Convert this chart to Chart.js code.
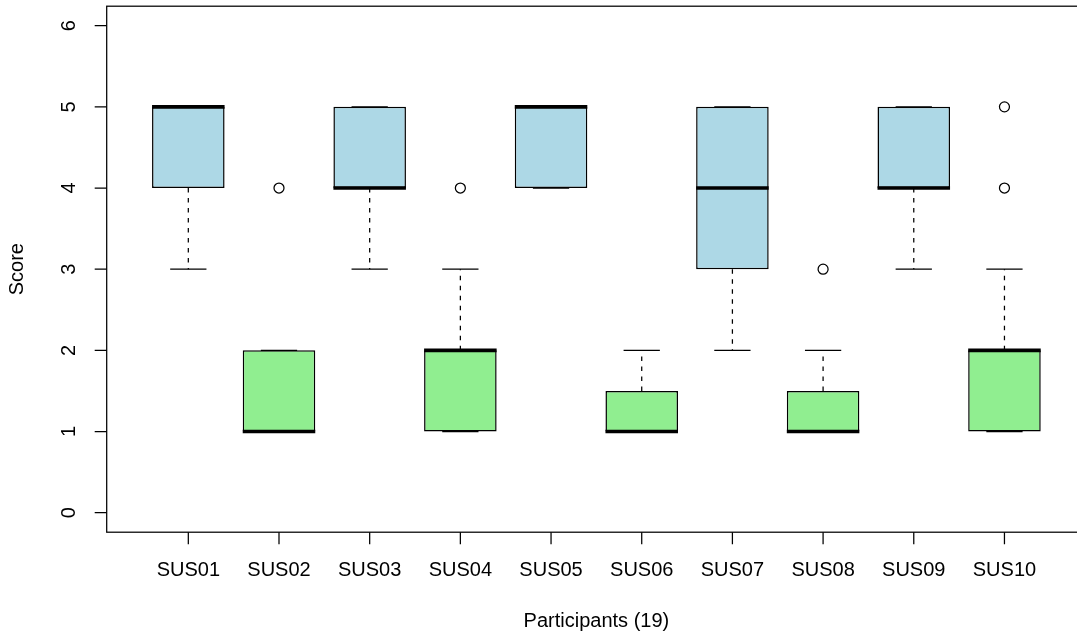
<!DOCTYPE html>
<html>
<head>
<meta charset="utf-8">
<script src="https://cdn.jsdelivr.net/npm/chart.js@4.4.1/dist/chart.umd.min.js"></script>
<style>
  html, body { margin: 0; padding: 0; background: #ffffff; overflow: hidden; }
  canvas { display: block; }
</style>
</head>
<body>
<canvas id="c" width="1077" height="637"></canvas>
<script>
// Five-number summaries per questionnaire item
const categories   = ['SUS01', 'SUS02', 'SUS03', 'SUS04', 'SUS05', 'SUS06', 'SUS07', 'SUS08', 'SUS09', 'SUS10'];
const whiskerLow   = [3, 1, 3, 1, 4, 1, 2, 1, 3, 1];
const quartileLow  = [4, 1, 4, 1, 4, 1, 3, 1, 4, 1];
const medians      = [5, 1, 4, 2, 5, 1, 4, 1, 4, 2];
const quartileHigh = [5, 2, 5, 2, 5, 1.5, 5, 1.5, 5, 2];
const whiskerHigh  = [5, 2, 5, 3, 5, 2, 5, 2, 5, 3];

// Points beyond the whiskers
const outlierCategories = ['SUS02', 'SUS04', 'SUS08', 'SUS10', 'SUS10'];
const outlierValues     = [4, 4, 3, 4, 5];

const yTicks = [0, 1, 2, 3, 4, 5, 6];
const xTitle = 'Participants (19)';
const yTitle = 'Score';

const BLUE = '#ADD8E6';
const GREEN = '#90EE90';
const INK = '#000000';
const FONT = '20px "Liberation Sans", Arial, Helvetica, sans-serif';
const LINE_W = 1.25;

const positions = categories.map((c, i) => i + 1);
const boxData = categories.map((c, i) => ({ x: positions[i], y: [quartileLow[i], quartileHigh[i]] }));
const outlierData = outlierCategories.map((c, i) => ({ x: categories.indexOf(c) + 1, y: outlierValues[i] }));

// Whiskers, caps and median bars drawn on top of the floating bars
const boxDecorations = {
  id: 'boxDecorations',
  afterDatasetDraw(chart, args) {
    if (args.index !== 0) return;
    const ctx = chart.ctx;
    const y = chart.scales.y;
    const bars = chart.getDatasetMeta(0).data;
    ctx.save();
    ctx.strokeStyle = INK;
    bars.forEach((bar, i) => {
      const cx = bar.x;
      const w = bar.width;
      // dashed stems
      ctx.lineWidth = LINE_W;
      ctx.setLineDash([4.5, 5.5]);
      ctx.beginPath();
      ctx.moveTo(cx, y.getPixelForValue(quartileHigh[i]));
      ctx.lineTo(cx, y.getPixelForValue(whiskerHigh[i]));
      ctx.moveTo(cx, y.getPixelForValue(quartileLow[i]));
      ctx.lineTo(cx, y.getPixelForValue(whiskerLow[i]));
      ctx.stroke();
      // caps
      ctx.setLineDash([]);
      ctx.beginPath();
      const yh = y.getPixelForValue(whiskerHigh[i]);
      const yl = y.getPixelForValue(whiskerLow[i]);
      ctx.moveTo(cx - w / 4, yh); ctx.lineTo(cx + w / 4, yh);
      ctx.moveTo(cx - w / 4, yl); ctx.lineTo(cx + w / 4, yl);
      ctx.stroke();
      // median
      ctx.lineWidth = 3.6;
      ctx.lineCap = 'butt';
      ctx.beginPath();
      const ym = y.getPixelForValue(medians[i]);
      ctx.moveTo(cx - w / 2, ym); ctx.lineTo(cx + w / 2, ym);
      ctx.stroke();
    });
    ctx.restore();
  }
};

// Plot frame, axes, tick labels and titles
const frameAndAxes = {
  id: 'frameAndAxes',
  afterDraw(chart) {
    const ctx = chart.ctx;
    const a = chart.chartArea;
    const xs = chart.scales.x;
    const ys = chart.scales.y;
    ctx.save();
    ctx.strokeStyle = INK;
    ctx.fillStyle = INK;
    ctx.lineWidth = LINE_W;
    ctx.setLineDash([]);
    // frame (its right side lies past the canvas edge)
    ctx.strokeRect(a.left, a.top, (a.right - a.left) + 20, a.bottom - a.top);

    // y axis ticks and rotated labels
    ctx.font = FONT;
    ctx.textAlign = 'center';
    ctx.textBaseline = 'middle';
    ctx.beginPath();
    yTicks.forEach(v => {
      const py = ys.getPixelForValue(v);
      ctx.moveTo(a.left - 12, py);
      ctx.lineTo(a.left, py);
    });
    ctx.stroke();
    yTicks.forEach(v => {
      const py = ys.getPixelForValue(v);
      ctx.save();
      ctx.translate(a.left - 37.5, py);
      ctx.rotate(-Math.PI / 2);
      ctx.fillText(String(v), 0, 0);
      ctx.restore();
    });

    // x axis ticks and labels
    ctx.beginPath();
    positions.forEach(p => {
      const px = xs.getPixelForValue(p);
      ctx.moveTo(px, a.bottom);
      ctx.lineTo(px, a.bottom + 12);
    });
    ctx.stroke();
    categories.forEach((c, i) => {
      ctx.fillText(c, xs.getPixelForValue(positions[i]), a.bottom + 38);
    });

    // axis titles
    ctx.fillText(xTitle, xs.getPixelForValue(5.5), a.bottom + 89);
    ctx.save();
    ctx.translate(17, ys.getPixelForValue(3));
    ctx.rotate(-Math.PI / 2);
    ctx.fillText(yTitle, 0, 0);
    ctx.restore();
    ctx.restore();
  }
};

new Chart(document.getElementById('c'), {
  type: 'bar',
  data: {
    datasets: [
      {
        type: 'bar',
        data: boxData,
        backgroundColor: (ctx) => (ctx.dataIndex % 2 === 0 ? BLUE : GREEN),
        borderColor: INK,
        borderWidth: 1.5,
        borderSkipped: false,
        barPercentage: 0.8,
        categoryPercentage: 1.0,
        order: 2
      },
      {
        type: 'scatter',
        data: outlierData,
        showLine: false,
        pointStyle: 'circle',
        pointRadius: 5,
        pointBorderWidth: LINE_W,
        borderColor: INK,
        backgroundColor: 'rgba(0,0,0,0)',
        order: 1
      }
    ]
  },
  options: {
    responsive: false,
    animation: false,
    events: [],
    layout: { autoPadding: false, padding: { left: 106.7, top: 6.2, right: 0, bottom: 104.8 } },
    plugins: { legend: { display: false }, tooltip: { enabled: false } },
    scales: {
      x: {
        type: 'linear',
        min: 0.1,
        max: 10.8,
        offset: false,
        display: false,
        grid: { offset: false },
        afterBuildTicks: (scale) => { scale.ticks = positions.map(v => ({ value: v })); }
      },
      y: {
        type: 'linear',
        min: -0.24,
        max: 6.24,
        display: false
      }
    }
  },
  plugins: [boxDecorations, frameAndAxes]
});
</script>
</body>
</html>
